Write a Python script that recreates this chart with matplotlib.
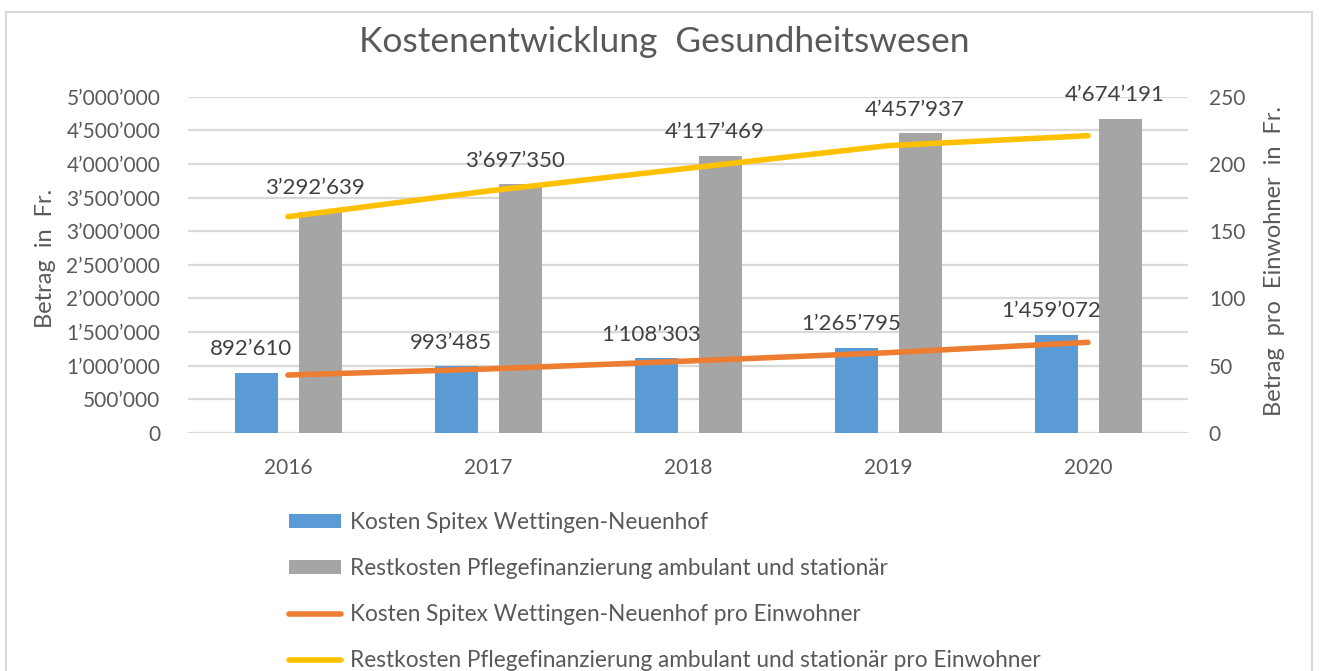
import matplotlib
matplotlib.use("Agg")
import matplotlib.pyplot as plt
from matplotlib.patches import Rectangle
from matplotlib.ticker import FuncFormatter, MultipleLocator
import numpy as np

# ---------------------------------------------------------------------------
# Daten
# ---------------------------------------------------------------------------
jahre = ["2016", "2017", "2018", "2019", "2020"]
kosten_spitex = [892610, 993485, 1108303, 1265795, 1459072]
restkosten = [3292639, 3697350, 4117469, 4457937, 4674191]
spitex_pro_einw = [43.1, 47.6, 53.5, 59.7, 67.4]
rest_pro_einw = [160.8, 179.9, 196.8, 213.6, 221.0]

labels = [
    "Kosten Spitex Wettingen-Neuenhof",
    "Restkosten Pflegefinanzierung ambulant und stationär",
    "Kosten Spitex Wettingen-Neuenhof pro Einwohner",
    "Restkosten Pflegefinanzierung ambulant und stationär pro Einwohner",
]

BLAU, GRAU, ORANGE, GELB = "#5B9BD5", "#A5A5A5", "#ED7D31", "#FFC000"
TEXT = "#595959"
GRID = "#D9D9D9"

plt.rcParams["font.family"] = ["Lato", "DejaVu Sans"]


def fmt(v):
    return f"{int(round(v)):,}".replace(",", "\u2019")


W, H = 1319, 671
fig = plt.figure(figsize=(W / 100, H / 100), dpi=100)

# Rahmen um das Diagramm
fig.patches.append(Rectangle((6 / W, -0.05), 1306 / W, 1.05 - 12 / H,
                             transform=fig.transFigure, fill=False,
                             edgecolor="#D9D9D9", linewidth=1.5))

pos = [188 / W, 1 - 433 / H, 1000 / W, 336.3 / H]
ax = fig.add_axes(pos)
x = np.arange(len(jahre))
bw, off = 0.215, 0.16

b1 = ax.bar(x - off, kosten_spitex, bw, color=BLAU, zorder=3, label=labels[0])
b2 = ax.bar(x + off, restkosten, bw, color=GRAU, zorder=3, label=labels[1])

for xs, vals in ((x - off, kosten_spitex), (x + off, restkosten)):
    for xi, v in zip(xs, vals):
        ax.annotate(fmt(v), (xi, v), xytext=(-3.6, 17), textcoords="offset points",
                    ha="center", va="center", fontsize=16, color="#404040")

ax.set_xlim(-0.5, len(jahre) - 0.5)
ax.set_ylim(0, 5_000_000)
ax.yaxis.set_major_locator(MultipleLocator(500_000))
ax.yaxis.set_major_formatter(FuncFormatter(lambda v, p: fmt(v)))
ax.set_xticks(x, jahre)
ax.tick_params(axis="x", length=0, pad=18, labelsize=15, labelcolor=TEXT)
ax.tick_params(axis="y", length=0, pad=20, labelsize=15, labelcolor=TEXT)
ax.grid(axis="y", color=GRID, linewidth=1.6, zorder=0)
for s in ax.spines.values():
    s.set_visible(False)
ax.set_ylabel("Betrag  in  Fr.", fontsize=17, color=TEXT)
ax.yaxis.set_label_coords((56 - 188) / 1000, 0.5 + 6 / 336.3)

ax2 = ax.twinx()
l1, = ax2.plot(x, spitex_pro_einw, color=ORANGE, linewidth=4,
               solid_capstyle="round", zorder=4, label=labels[2])
l2, = ax2.plot(x, rest_pro_einw, color=GELB, linewidth=4,
               solid_capstyle="round", zorder=4, label=labels[3])
ax2.set_ylim(0, 250)
ax2.yaxis.set_major_locator(MultipleLocator(50))
ax2.tick_params(axis="y", length=0, pad=15, labelsize=15, labelcolor=TEXT)
for s in ax2.spines.values():
    s.set_visible(False)
ax2.set_ylabel("Betrag  pro  Einwohner  in  Fr.", fontsize=17, color=TEXT)
ax2.yaxis.set_label_coords((1264 - 188) / 1000, 0.5 + 4 / 336.3)

fig.text(664 / W, 1 - 42 / H, "Kostenentwicklung  Gesundheitswesen",
         ha="center", va="center", fontsize=25.5, color=TEXT)

leg = fig.legend([b1, b2, l1, l2], labels, loc="upper left",
                 bbox_to_anchor=(269 / W, 1 - 492 / H), frameon=False,
                 fontsize=16.3, labelcolor=TEXT, handlelength=2.3,
                 handleheight=0.58, handletextpad=0.4, labelspacing=1.1)

fig.savefig("out.png", dpi=100, facecolor="white")
